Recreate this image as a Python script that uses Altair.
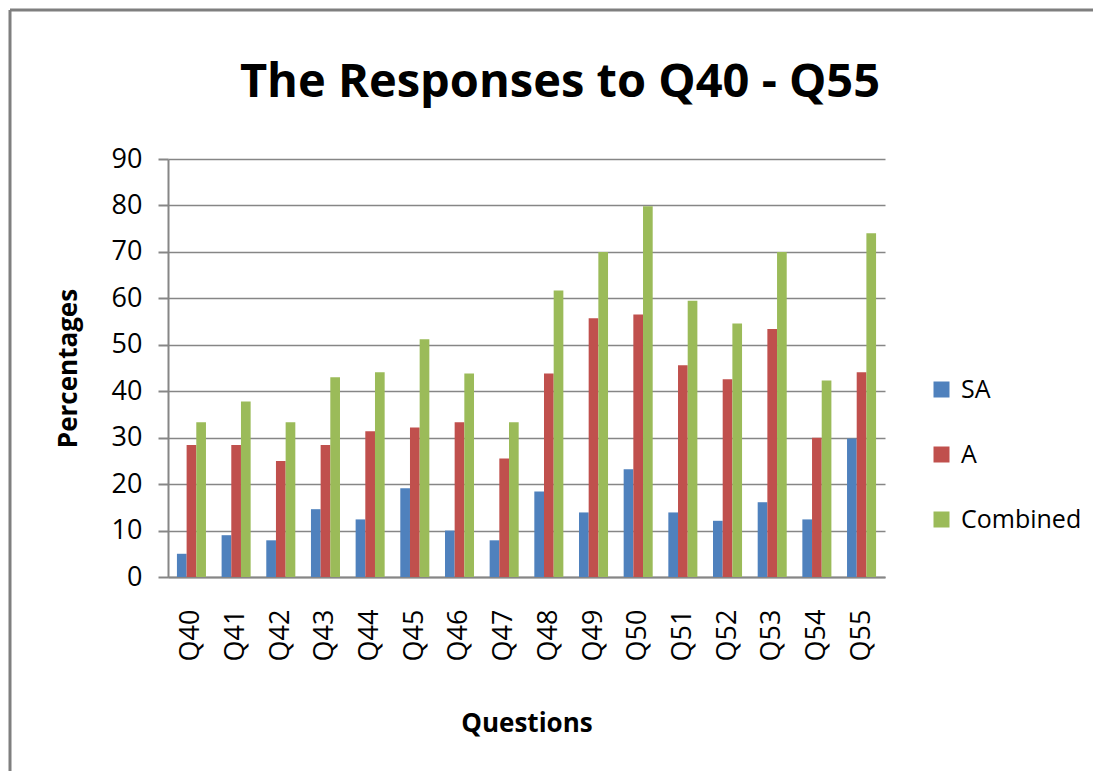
import altair as alt
import pandas as pd

questions = ["Q40", "Q41", "Q42", "Q43", "Q44", "Q45", "Q46", "Q47",
             "Q48", "Q49", "Q50", "Q51", "Q52", "Q53", "Q54", "Q55"]
sa = [5.0, 9.0, 7.9, 14.6, 12.4, 19.1, 10.0, 7.9,
      18.4, 13.9, 23.2, 13.9, 12.1, 16.1, 12.4, 29.8]
a = [28.4, 28.4, 25.0, 28.4, 31.4, 32.2, 33.3, 25.5,
     43.8, 55.7, 56.5, 45.6, 42.6, 53.4, 30.0, 44.1]
combined = [33.3, 37.8, 33.3, 43.0, 44.1, 51.2, 43.8, 33.3,
            61.7, 70.0, 79.8, 59.5, 54.6, 70.0, 42.3, 74.0]
series = ["SA", "A", "Combined"]
colors = ["#4F81BD", "#C0504D", "#9BBB59"]
title_text = "The Responses to Q40 - Q55"

rows = []
for i, q in enumerate(questions):
    for s, vals in zip(series, [sa, a, combined]):
        rows.append({"Question": q, "Series": s, "Value": vals[i]})
df = pd.DataFrame(rows)

FONT = "Open Sans"

bars = alt.Chart(df).mark_bar().encode(
    x=alt.X("Question:N", sort=questions,
            scale=alt.Scale(paddingInner=0.35, paddingOuter=0.2),
            axis=alt.Axis(title="Questions", labelAngle=270, labelFontSize=27,
                          labelColor="black", labelFont=FONT, labelPadding=32,
                          labelBaseline="middle", labelAlign="right",
                          titleFont=FONT, titleFontSize=26, titleFontWeight="bold",
                          titleColor="black", titlePadding=50,
                          ticks=False, domainColor="#868686", domainWidth=2)),
    xOffset=alt.XOffset("Series:N", sort=series),
    y=alt.Y("Value:Q", scale=alt.Scale(domain=[0, 90]),
            axis=alt.Axis(title="Percentages", values=list(range(0, 100, 10)),
                          labelFontSize=27, labelColor="black", labelFont=FONT,
                          labelPadding=16, tickSize=10, tickColor="#868686",
                          tickWidth=2, domainColor="#868686", domainWidth=2,
                          gridColor="#868686", gridWidth=1.5,
                          titleFont=FONT, titleFontSize=26, titleFontWeight="bold",
                          titleColor="black", titlePadding=30)),
    color=alt.Color("Series:N", sort=series,
                    scale=alt.Scale(domain=series, range=colors),
                    legend=alt.Legend(title=None, orient="none", legendX=761,
                                      legendY=218, labelFontSize=25, labelFont=FONT,
                                      labelColor="black", symbolType="square",
                                      symbolSize=256, symbolStrokeWidth=0,
                                      rowPadding=39, labelOffset=7)),
)

title_mark = alt.Chart(pd.DataFrame({"t": [title_text]})).mark_text(
    font=FONT, fontSize=47, fontWeight="bold", color="black",
    align="center", baseline="alphabetic"
).encode(text="t:N", x=alt.value(392), y=alt.value(-62))

border = alt.Chart(pd.DataFrame({"k": [0]})).mark_rule(color="#7f7f7f", strokeWidth=3)
left_edge = border.encode(x=alt.value(-158), y=alt.value(-149), y2=alt.value(612))
top_edge = border.encode(x=alt.value(-158), x2=alt.value(925), y=alt.value(-149))

chart = alt.layer(bars, title_mark, left_edge, top_edge).properties(
    width=717, height=418,
    padding=0,
).configure_view(stroke=None).configure_axisX(grid=False)

chart.save("out.html", embed_options={"renderer": "svg", "actions": False})
